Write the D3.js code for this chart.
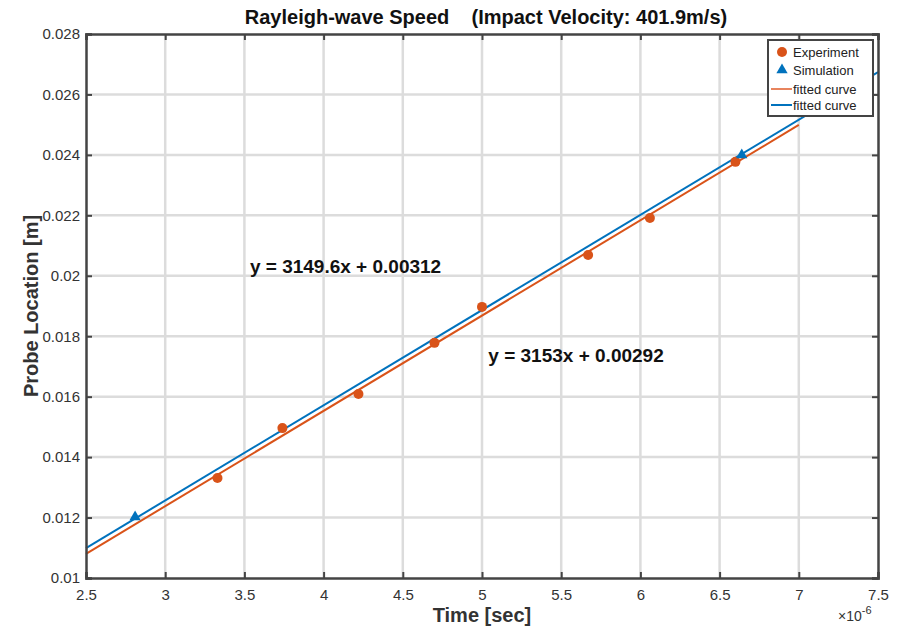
<!DOCTYPE html>
<html>
<head>
<meta charset="utf-8">
<script src="https://cdn.jsdelivr.net/npm/d3@7/dist/d3.min.js"></script>
<style>
  body { margin: 0; background: #fff; }
  svg { font-family: "Liberation Sans", Arial, sans-serif; }
</style>
</head>
<body>
<div id="chart"></div>
<script>
// tick values (time in units of 1e-6 s)
const xTicks = [2.5, 3, 3.5, 4, 4.5, 5, 5.5, 6, 6.5, 7, 7.5];
const yTicks = [0.01, 0.012, 0.014, 0.016, 0.018, 0.02, 0.022, 0.024, 0.026, 0.028];
const yTickLabels = ["0.01", "0.012", "0.014", "0.016", "0.018", "0.02", "0.022", "0.024", "0.026", "0.028"];

// Experiment points
const expTime = [3.33, 3.74, 4.22, 4.70, 5.00, 5.67, 6.06, 6.60];
const expLoc = [0.01331, 0.01496, 0.01609, 0.01778, 0.01897, 0.02069, 0.02191, 0.02377];

// Simulation points
const simTime = [2.81, 6.64];
const simLoc = [0.01202, 0.02400];

// fitted curves, endpoints
const expFitTime = [2.5, 7.0];
const expFitLoc = [0.01080, 0.02499];
const simFitTime = [2.5, 7.5];
const simFitLoc = [0.01099, 0.02674];

const eqLabels = ["y = 3149.6x + 0.00312", "y = 3153x + 0.00292"];
const eqPos = [[3.535, 0.02008], [5.04, 0.01715]];

const legendLabels = ["Experiment", "Simulation", "fitted curve", "fitted curve"];

const orange = "#D95319", blue = "#0072BD";
const margin = { top: 34, right: 22, bottom: 52, left: 86 },
    width = 900 - margin.left - margin.right,
    height = 630 - margin.top - margin.bottom;

const svg = d3.select("#chart").append("svg")
    .attr("width", 900)
    .attr("height", 630);

const g = svg.append("g")
    .attr("transform", `translate(${margin.left},${margin.top})`);

const x = d3.scaleLinear().domain([2.5, 7.5]).range([0, width]);
const y = d3.scaleLinear().domain([0.01, 0.028]).range([height, 0]);

// grid
g.append("g").selectAll("line").data(xTicks.slice(1, -1)).join("line")
    .attr("x1", d => x(d)).attr("x2", d => x(d))
    .attr("y1", 0).attr("y2", height)
    .attr("stroke", "#dcdcdc").attr("stroke-width", 2.5);
g.append("g").selectAll("line").data(yTicks.slice(1, -1)).join("line")
    .attr("y1", d => y(d)).attr("y2", d => y(d))
    .attr("x1", 0).attr("x2", width)
    .attr("stroke", "#dcdcdc").attr("stroke-width", 2.5);

// fitted lines
const line = d3.line().x(d => x(d[0])).y(d => y(d[1]));
g.append("path")
    .datum(expFitTime.map((t, i) => [t, expFitLoc[i]]))
    .attr("d", line).attr("fill", "none")
    .attr("stroke", orange).attr("stroke-width", 2);
g.append("path")
    .datum(simFitTime.map((t, i) => [t, simFitLoc[i]]))
    .attr("d", line).attr("fill", "none")
    .attr("stroke", blue).attr("stroke-width", 2);

// markers
g.append("g").selectAll("circle").data(expTime).join("circle")
    .attr("cx", d => x(d))
    .attr("cy", (d, i) => y(expLoc[i]))
    .attr("r", 5)
    .attr("fill", orange);
g.append("g").selectAll("path").data(simTime).join("path")
    .attr("transform", (d, i) => `translate(${x(d)},${y(simLoc[i])})`)
    .attr("d", d3.symbol(d3.symbolTriangle, 55))
    .attr("fill", blue);

// equation labels
g.selectAll(".eq").data(eqLabels).join("text")
    .attr("class", "eq")
    .attr("x", (d, i) => x(eqPos[i][0]))
    .attr("y", (d, i) => y(eqPos[i][1]))
    .attr("font-size", 19).attr("font-weight", "bold")
    .attr("fill", "#111")
    .text(d => d);

// axes box and ticks
const axisColor = "#444";
const xAxis = d3.axisBottom(x).tickValues(xTicks).tickSize(-6).tickPadding(11)
    .tickFormat(d3.format("~g"));
const yAxis = d3.axisLeft(y).tickValues(yTicks).tickSize(-6).tickPadding(6)
    .tickFormat((d, i) => yTickLabels[i]);
const xTop = d3.axisTop(x).tickValues(xTicks).tickSize(-6).tickFormat("");
const yRight = d3.axisRight(y).tickValues(yTicks).tickSize(-6).tickFormat("");

function style(sel) {
    sel.select(".domain").attr("stroke", axisColor).attr("stroke-width", 2.5);
    sel.selectAll(".tick line").attr("stroke", axisColor).attr("stroke-width", 2);
    sel.selectAll(".tick text").attr("fill", "#333").attr("font-size", 15);
}
g.append("g").attr("transform", `translate(0,${height})`).call(xAxis).call(style);
g.append("g").call(yAxis).call(style);
g.append("g").call(xTop).call(style);
g.append("g").attr("transform", `translate(${width},0)`).call(yRight).call(style);

// exponent label
const expLabel = g.append("text")
    .attr("x", width - 40).attr("y", height + 43)
    .attr("font-size", 14).attr("fill", "#333");
expLabel.append("tspan").text("\u00d710");
expLabel.append("tspan").attr("dy", -7).attr("font-size", 11).text("-6");

// axis titles
g.append("text")
    .attr("x", width / 2).attr("y", height + 44)
    .attr("text-anchor", "middle")
    .attr("font-size", 20).attr("font-weight", "bold").attr("fill", "#333")
    .text("Time [sec]");
g.append("text")
    .attr("transform", `translate(${-48},${height / 2}) rotate(-90)`)
    .attr("text-anchor", "middle")
    .attr("font-size", 20).attr("font-weight", "bold").attr("fill", "#333")
    .text("Probe Location [m]");

// title
svg.append("text")
    .attr("x", 486).attr("y", 24)
    .attr("text-anchor", "middle")
    .attr("font-size", 20).attr("font-weight", "bold").attr("fill", "#111")
    .attr("xml:space", "preserve")
    .style("white-space", "pre")
    .text("Rayleigh-wave Speed    (Impact Velocity: 401.9m/s)");

// legend
const legend = svg.append("g").attr("transform", "translate(768,40)");
legend.append("rect")
    .attr("width", 105).attr("height", 76)
    .attr("fill", "#fff").attr("stroke", axisColor).attr("stroke-width", 2);
const rowY = [12, 30, 49, 65];
const legendRows = legend.selectAll(".row").data(legendLabels).join("g")
    .attr("transform", (d, i) => `translate(0,${rowY[i]})`);
legendRows.append("text")
    .attr("x", 25).attr("y", 4.5)
    .attr("font-size", 13).attr("fill", "#222")
    .text(d => d);
legendRows.filter((d, i) => i === 0).append("circle")
    .attr("cx", 14).attr("r", 5).attr("fill", orange);
legendRows.filter((d, i) => i === 1).append("path")
    .attr("transform", "translate(14,0)")
    .attr("d", d3.symbol(d3.symbolTriangle, 55)).attr("fill", blue);
legendRows.filter((d, i) => i >= 2).append("line")
    .attr("x1", 3).attr("x2", 24)
    .attr("stroke", (d, i) => i === 0 ? "#E8845E" : blue)
    .attr("stroke-width", 2);
</script>
</body>
</html>
